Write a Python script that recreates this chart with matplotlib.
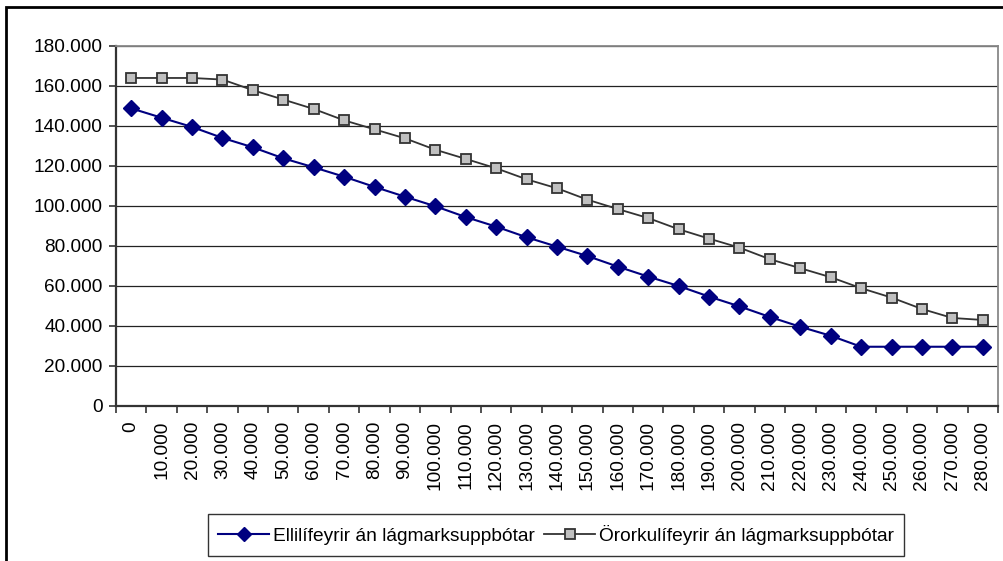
import matplotlib
matplotlib.use("Agg")
import matplotlib.pyplot as plt
from matplotlib.patches import Rectangle
from matplotlib.ticker import FixedLocator, FuncFormatter

plt.rcParams['font.family'] = ['Liberation Sans', 'DejaVu Sans']

categories = ["0"] + [f"{v}.000" for v in range(10, 290, 10)]
ellilifeyrir = [148.8, 144.1, 139.5, 134.0, 129.3, 123.8, 119.3, 114.6, 109.5,
                104.6, 99.8, 94.4, 89.6, 84.3, 79.6, 74.9, 69.6, 64.6, 59.9,
                54.6, 49.7, 44.4, 39.5, 35.0, 29.5, 29.5, 29.5, 29.5, 29.5]
ororkulifeyrir = [164.0, 164.0, 164.0, 163.2, 157.9, 153.2, 148.5, 142.8, 138.3,
                  133.8, 128.1, 123.5, 118.8, 113.3, 108.8, 103.1, 98.4, 93.9, 88.3,
                  83.6, 79.1, 73.3, 68.8, 64.3, 58.8, 54.1, 48.4, 43.9, 42.9]
y_ticks = [0, 20, 40, 60, 80, 100, 120, 140, 160, 180]
labels = ["Ellilífeyrir án lágmarksuppbótar", "Örorkulífeyrir án lágmarksuppbótar"]

W, H = 1004, 561
fig = plt.figure(figsize=(W / 100, H / 100), dpi=100)
# outer chart border
fig.patches.append(Rectangle((6 / W, -0.1), 1.2, (H - 7) / H + 0.1, transform=fig.transFigure,
                             fill=False, edgecolor='black', linewidth=2.0))

ax = fig.add_axes([116 / W, 1 - 405.7 / H, (998 - 116) / W, (405.7 - 46) / H])
x = list(range(len(categories)))
ax.plot(x, ellilifeyrir, color='#000080', linewidth=1.5, marker='D', markersize=7.8,
        markerfacecolor='#000080', markeredgecolor='#000080', label=labels[0], zorder=3)
ax.plot(x, ororkulifeyrir, color='#333333', linewidth=1.3, marker='s', markersize=7.3,
        markerfacecolor='#C0C0C0', markeredgecolor='#333333', markeredgewidth=1.3,
        label=labels[1], zorder=3)

ax.set_xlim(-0.5, len(categories) - 0.5)
ax.set_ylim(0, 180)
ax.set_yticks(y_ticks)
ax.yaxis.set_major_formatter(FuncFormatter(lambda v, p: "0" if v == 0 else f"{int(v)}.000"))
ax.grid(axis='y', color='#222222', linewidth=0.9)
ax.set_axisbelow(True)

ax.xaxis.set_major_locator(FixedLocator([i - 0.5 for i in range(len(categories) + 1)]))
ax.xaxis.set_major_formatter(FuncFormatter(lambda v, p: ""))
ax.xaxis.set_minor_locator(FixedLocator(x))
ax.set_xticklabels(categories, minor=True, rotation=90, fontsize=13.7)
ax.tick_params(axis='x', which='minor', length=0, pad=11)
ax.tick_params(axis='x', which='major', length=5, width=1.2, color='#333333', direction='out')
ax.tick_params(axis='y', length=5, width=1.2, color='#333333', labelsize=13.7, pad=4.5)

for s in ['left', 'bottom']:
    ax.spines[s].set_color('#333333')
    ax.spines[s].set_linewidth(1.6)
for s in ['top', 'right']:
    ax.spines[s].set_color('#888888')
    ax.spines[s].set_linewidth(1.3)

leg = fig.legend(loc='center', bbox_to_anchor=(556 / W, 1 - 535 / H), ncol=2,
                 frameon=True, fancybox=False, edgecolor='black', fontsize=13.8,
                 handlelength=2.65, columnspacing=0.5, handletextpad=0.2,
                 borderpad=0.55, borderaxespad=0, markerscale=0.9)
leg.get_frame().set_linewidth(1.0)

fig.savefig("out.png", dpi=100)
